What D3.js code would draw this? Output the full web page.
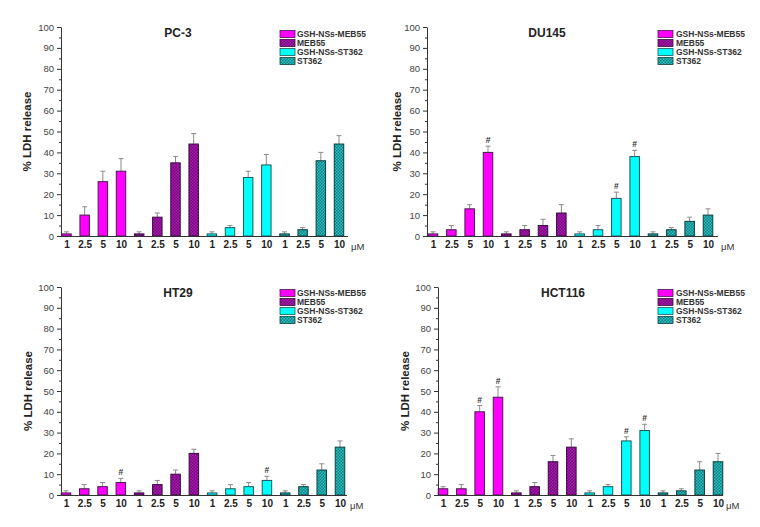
<!DOCTYPE html>
<html>
<head>
<meta charset="utf-8">
<script src="https://cdn.jsdelivr.net/npm/d3@7"></script>
<style>
  html, body { margin: 0; padding: 0; background: #fff; }
  svg { display: block; font-family: Arial, "Liberation Sans", sans-serif; }
</style>
</head>
<body>
<svg id="chart" width="760" height="527"></svg>
<script>
// ---------------- DATA ----------------
const concentrations = ["1", "2.5", "5", "10"];
const seriesNames = ["GSH-NSs-MEB55", "MEB55", "GSH-NSs-ST362", "ST362"];
const panelTitles = ["PC-3", "DU145", "HT29", "HCT116"];
const yTickValues = [0, 10, 20, 30, 40, 50, 60, 70, 80, 90, 100];
const yMinorTickValues = [5, 15, 25, 35, 45, 55, 65, 75, 85, 95];
const unitLabel = "\u03bcM";
const yAxisTitle = "% LDH release";

// values per series (rows) x concentration (columns)
const pc3Values   = [[1, 10, 26, 31], [1, 9, 35, 44], [1, 4, 28, 34], [1, 3, 36, 44]];
const pc3Errors   = [[1, 4, 5, 6],    [1, 2, 3, 5],   [1, 1, 3, 5],   [1, 1, 4, 4]];
const pc3Sig      = [[0, 0, 0, 0],    [0, 0, 0, 0],   [0, 0, 0, 0],   [0, 0, 0, 0]];

const du145Values = [[1, 3, 13, 40], [1, 3, 5, 11], [1, 3, 18, 38], [1, 3, 7, 10]];
const du145Errors = [[1, 2, 2, 3],   [1, 2, 3, 4],  [1, 2, 3, 3],   [1, 1, 2, 3]];
const du145Sig    = [[0, 0, 0, 1],   [0, 0, 0, 0],  [0, 0, 1, 1],   [0, 0, 0, 0]];

const ht29Values  = [[1, 3, 4, 6],  [1, 5, 10, 20], [1, 3, 4, 7],  [1, 4, 12, 23]];
const ht29Errors  = [[1, 2, 2, 2],  [1, 2, 2, 2],   [1, 2, 2, 2],  [1, 1, 3, 3]];
const ht29Sig     = [[0, 0, 0, 1],  [0, 0, 0, 0],   [0, 0, 0, 1],  [0, 0, 0, 0]];

const hct116Values = [[3, 3, 40, 47], [1, 4, 16, 23], [1, 4, 26, 31], [1, 2, 12, 16]];
const hct116Errors = [[1, 2, 3, 5],   [1, 2, 3, 4],   [1, 1, 2, 3],   [1, 1, 4, 4]];
const hct116Sig    = [[0, 0, 1, 1],   [0, 0, 0, 0],   [0, 0, 1, 1],   [0, 0, 0, 0]];

// ---------------- LAYOUT / STYLE ----------------
const panelData = [
  { values: pc3Values,    errors: pc3Errors,    sig: pc3Sig },
  { values: du145Values,  errors: du145Errors,  sig: du145Sig },
  { values: ht29Values,   errors: ht29Errors,   sig: ht29Sig },
  { values: hct116Values, errors: hct116Errors, sig: hct116Sig }
];
const panelLayout = [
  { axisX: 61,  axisEnd: 348, y0: 236, y100: 27,  c0: 66.5, c15: 339, titleX: 178, yTitleX: 27 },
  { axisX: 427, axisEnd: 718, y0: 236, y100: 27,  c0: 433,  c15: 708, titleX: 547, yTitleX: 397 },
  { axisX: 61,  axisEnd: 347, y0: 495, y100: 287, c0: 66,   c15: 340, titleX: 178, yTitleX: 28 },
  { axisX: 438, axisEnd: 723, y0: 495, y100: 287, c0: 443,  c15: 718, titleX: 563, yTitleX: 405 }
];
const legendLayout = [
  { swX: 280, txX: 297, y: 34 },
  { swX: 658, txX: 676, y: 34 },
  { swX: 280, txX: 297, y: 293 },
  { swX: 658, txX: 676, y: 293 }
];

const svg = d3.select("#chart");
const defs = svg.append("defs");

function checker(id, c1, c2) {
  const p = defs.append("pattern").attr("id", id)
    .attr("width", 3).attr("height", 3).attr("patternUnits", "userSpaceOnUse");
  p.append("rect").attr("width", 3).attr("height", 3).attr("fill", c1);
  p.append("rect").attr("x", 0).attr("y", 0).attr("width", 1.5).attr("height", 1.5).attr("fill", c2);
  p.append("rect").attr("x", 1.5).attr("y", 1.5).attr("width", 1.5).attr("height", 1.5).attr("fill", c2);
}
checker("patMEB", "#b018b4", "#6e0a78");
checker("patST", "#2cc0c0", "#0e7f82");

const fills = ["#ff00ff", "url(#patMEB)", "#00ffff", "url(#patST)"];
const strokes = ["#4a1a50", "#3a0a40", "#1a5a5a", "#0a4040"];

panelLayout.forEach((L, pi) => {
  const D = panelData[pi];
  const g = svg.append("g");

  const y = d3.scaleLinear().domain([0, 100]).range([L.y0, L.y100]);
  const x = d3.scaleLinear().domain([0, 15]).range([L.c0, L.c15]);
  const step = (L.c15 - L.c0) / 15;
  const barW = step * 0.52;

  // bars
  const bars = [];
  D.values.forEach((row, si) => row.forEach((v, ci) => {
    bars.push({ si, ci, idx: si * 4 + ci, v, e: D.errors[si][ci], s: D.sig[si][ci] });
  }));

  // error bars (behind bars)
  const eg = g.append("g").attr("stroke", "#8a8a8a").attr("stroke-width", 1);
  bars.forEach(b => {
    const cx = x(b.idx);
    eg.append("line").attr("x1", cx).attr("x2", cx)
      .attr("y1", y(b.v)).attr("y2", y(b.v + b.e));
    eg.append("line").attr("x1", cx - 2.5).attr("x2", cx + 2.5)
      .attr("y1", y(b.v + b.e)).attr("y2", y(b.v + b.e));
  });

  g.append("g").selectAll("rect").data(bars).join("rect")
    .attr("x", d => x(d.idx) - barW / 2)
    .attr("y", d => y(d.v))
    .attr("width", barW)
    .attr("height", d => L.y0 - y(d.v))
    .attr("fill", d => fills[d.si])
    .attr("stroke", d => strokes[d.si])
    .attr("stroke-width", 1);

  // significance marks
  g.append("g").selectAll("text").data(bars.filter(d => d.s)).join("text")
    .attr("x", d => x(d.idx))
    .attr("y", d => y(d.v + d.e) - 3)
    .attr("text-anchor", "middle")
    .attr("font-size", 8.5).attr("font-weight", "bold").attr("fill", "#333")
    .text("#");

  // y axis
  const yAxis = d3.axisLeft(y).tickValues(yTickValues).tickSize(4).tickSizeOuter(0).tickPadding(3);
  const ya = g.append("g").attr("transform", `translate(${L.axisX},0)`).call(yAxis);
  ya.select(".domain").attr("stroke", "#333");
  ya.selectAll(".tick line").attr("stroke", "#333");
  ya.selectAll(".tick text").attr("font-size", 9.5).attr("fill", "#444")
    .attr("font-family", "Arial, 'Liberation Sans', sans-serif");
  const yMinor = d3.axisLeft(y).tickValues(yMinorTickValues).tickSize(2).tickFormat("");
  const ym = g.append("g").attr("transform", `translate(${L.axisX},0)`).call(yMinor);
  ym.select(".domain").remove();
  ym.selectAll(".tick line").attr("stroke", "#333");

  // x axis line
  g.append("line").attr("x1", L.axisX).attr("x2", L.axisEnd)
    .attr("y1", L.y0 + 0.5).attr("y2", L.y0 + 0.5).attr("stroke", "#333");

  // x labels
  const xAxis = d3.axisBottom(x).tickValues(d3.range(16)).tickSize(0).tickPadding(5)
    .tickFormat(i => concentrations[i % 4]);
  const xa = g.append("g").attr("transform", `translate(0,${L.y0})`).call(xAxis);
  xa.select(".domain").remove();
  xa.selectAll(".tick text").attr("font-size", 10).attr("font-weight", "bold").attr("fill", "#222")
    .attr("font-family", "Arial, 'Liberation Sans', sans-serif");
  g.append("text").attr("x", L.axisEnd + 3).attr("y", L.y0 + 14)
    .attr("font-size", 9.5).attr("fill", "#333").text(unitLabel);

  // titles
  g.append("text").attr("x", L.titleX).attr("y", L.y100 + 10)
    .attr("text-anchor", "middle").attr("font-size", 12).attr("font-weight", "bold").attr("fill", "#222")
    .text(panelTitles[pi]);
  g.append("text")
    .attr("transform", `translate(${L.yTitleX + 4},${(L.y0 + L.y100) / 2}) rotate(-90)`)
    .attr("text-anchor", "middle").attr("font-size", 11.5).attr("font-weight", "bold").attr("fill", "#222")
    .text(yAxisTitle);

  // legend
  const LG = legendLayout[pi];
  seriesNames.forEach((name, si) => {
    const yy = LG.y + si * 9;
    g.append("rect").attr("x", LG.swX).attr("y", yy - 3.5).attr("width", 15).attr("height", 7)
      .attr("fill", fills[si]).attr("stroke", strokes[si]).attr("stroke-width", 0.8);
    g.append("text").attr("x", LG.txX).attr("y", yy + 3)
      .attr("font-size", 8.5).attr("font-weight", "bold").attr("fill", "#333").text(name);
  });
});
</script>
</body>
</html>
